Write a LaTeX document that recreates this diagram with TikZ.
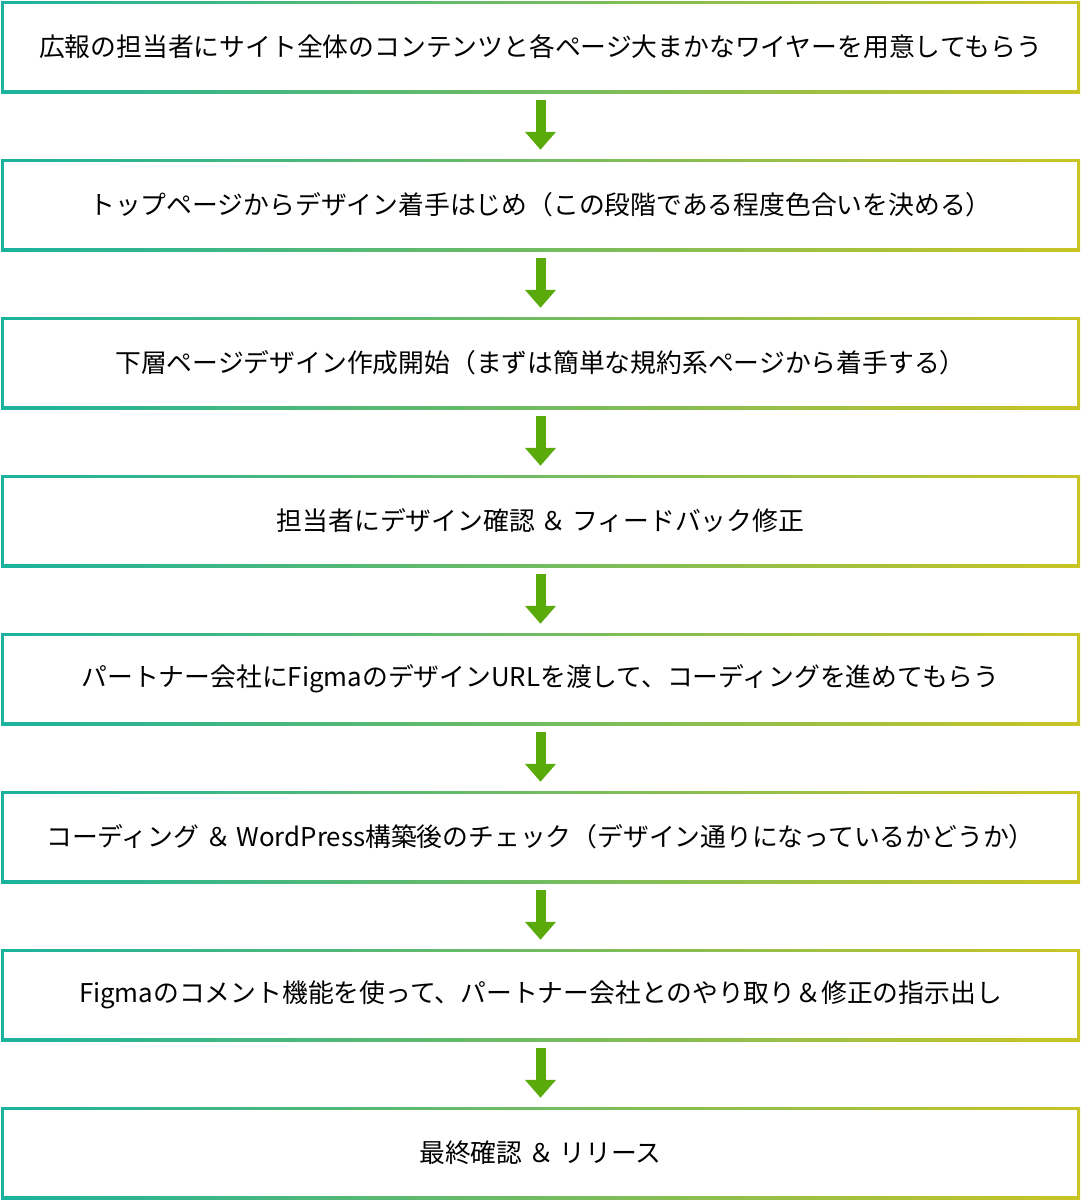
\documentclass[tikz,border=0pt]{standalone}
\usepackage{fontspec}
\setmainfont{Noto Sans CJK JP}
\usetikzlibrary{arrows.meta}
\definecolor{gl}{HTML}{1BB39E}
\definecolor{gr}{HTML}{C9C424}
\definecolor{arr}{HTML}{5AAA0C}
\tikzset{
 stepbox/.style={minimum width=1071pt,minimum height=84pt,inner sep=0pt,font=\fontsize{25.8pt}{30pt}\selectfont},
 flow/.style={draw=arr,line width=10pt,-{Triangle[width=30pt,length=18pt]},shorten <=11pt,shorten >=13pt}
}
\begin{document}
\begin{tikzpicture}[x=1pt,y=-1pt]
\useasboundingbox (0,0) rectangle (1081,1200);
\foreach \i/\t in {1/広報の担当者にサイト全体のコンテンツと各ページ大まかなワイヤーを用意してもらう,
 2/トップページからデザイン着手はじめ（この段階である程度色合いを決める）,
 3/下層ページデザイン作成開始（まずは簡単な規約系ページから着手する）,
 4/担当者にデザイン確認 ＆ フィードバック修正,
 5/パートナー会社にFigmaのデザインURLを渡して、コーディングを進めてもらう,
 6/コーディング ＆ WordPress構築後のチェック（デザイン通りになっているかどうか）,
 7/Figmaのコメント機能を使って、パートナー会社とのやり取り＆修正の指示出し,
 8/最終確認 ＆ リリース}{
 \pgfmathsetmacro\yc{47+158*(\i-1)}
 \shade[left color=gl,right color=gr] (1,\yc-46) rectangle (1080,\yc+46);
 \fill[white] (4,\yc-43) rectangle (1077,\yc+43);
 \node[stepbox] (b\i) at (540.5,\yc) {\t};
}
\foreach \i [evaluate=\i as \j using int(\i+1)] in {1,...,7}
 \draw[flow] (b\i.south) -- (b\j.north);
\end{tikzpicture}
\end{document}
